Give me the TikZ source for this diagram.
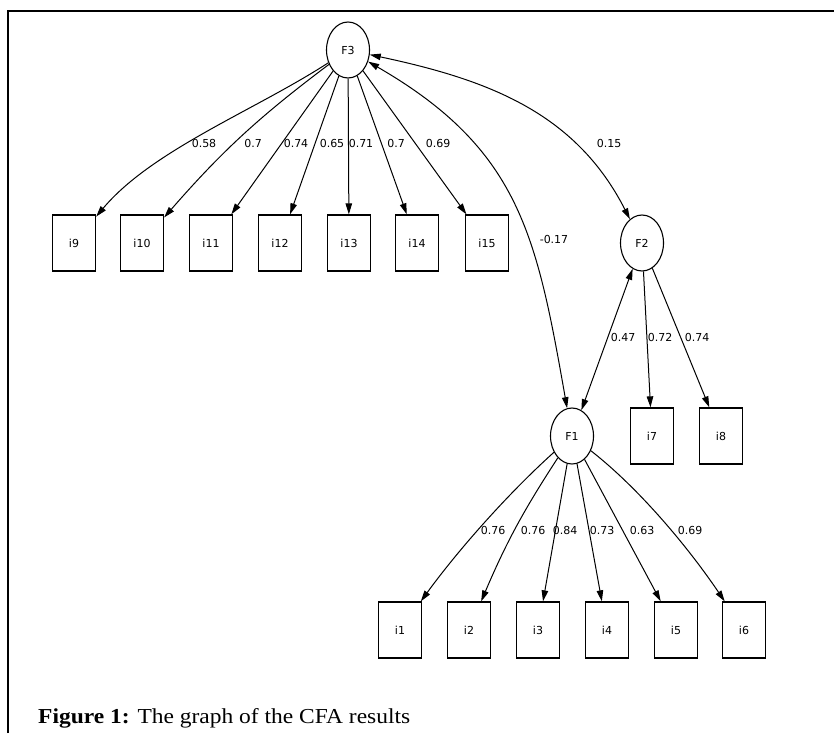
\documentclass[tikz,border=0pt]{standalone}
\usepackage{fontspec}
\setmainfont{Liberation Serif}
\newfontfamily\dejavu{DejaVu Sans}
\usetikzlibrary{shapes.geometric,arrows.meta}
\begin{document}
\begin{tikzpicture}[x=1pt,y=1pt,
  latent/.style={ellipse,draw,line width=1.1pt,minimum width=43pt,minimum height=56pt,inner sep=0pt,font=\dejavu\fontsize{11}{12}\selectfont},
  obs/.style={rectangle,draw,line width=1.3pt,minimum width=43pt,minimum height=56pt,inner sep=0pt,font=\dejavu\fontsize{11}{12}\selectfont},
  load/.style={-{Triangle[length=11pt,width=6.5pt]},line width=1pt},
  cov/.style={{Triangle[length=11pt,width=6.5pt]}-{Triangle[length=11pt,width=6.5pt]},line width=1pt},
  lbl/.style={font=\dejavu\fontsize{11}{12}\selectfont,inner sep=0pt},
  frameline/.style={line width=1.5pt}]
\useasboundingbox (0,0) rectangle (834,-733);
\draw[frameline] (8,-733) -- (8,-11) -- (834,-11);

% latent factors
\node[latent] (F3) at (348,-50) {F3};
\node[latent] (F2) at (642,-243) {F2};
\node[latent] (F1) at (572,-436) {F1};

% top indicators
\node[obs] (i9)  at (74,-243)  {i9};
\node[obs] (i10) at (142,-243) {i10};
\node[obs] (i11) at (211,-243) {i11};
\node[obs] (i12) at (280,-243) {i12};
\node[obs] (i13) at (349,-243) {i13};
\node[obs] (i14) at (417,-243) {i14};
\node[obs] (i15) at (487,-243) {i15};
% F2 indicators
\node[obs] (i7) at (652,-436) {i7};
\node[obs] (i8) at (721,-436) {i8};
% bottom indicators
\node[obs] (i1) at (400,-630) {i1};
\node[obs] (i2) at (469,-630) {i2};
\node[obs] (i3) at (538,-630) {i3};
\node[obs] (i4) at (607,-630) {i4};
\node[obs] (i5) at (676,-630) {i5};
\node[obs] (i6) at (744,-630) {i6};

% F3 loadings
\draw[load] (F3) to[out=213,in=50,looseness=0.8] (i9);
\draw[load] (F3) to[bend right=6] (i10);
\draw[load] (F3) -- (i11);
\draw[load] (F3) -- (i12);
\draw[load] (F3) -- (i13);
\draw[load] (F3) -- (i14);
\draw[load] (F3) -- (i15);
% covariances
\draw[cov] (F3) to[out=-12,in=117] (F2);
\draw[cov] (F3) to[out=-30,in=100,looseness=1.12] (F1);
\draw[cov] (F1) -- (F2);
% F2 loadings
\draw[load] (F2) -- (i7);
\draw[load] (F2) -- (i8);
% F1 loadings
\draw[load] (F1) to[out=222,in=54,looseness=0.8] (i1);
\draw[load] (F1) to[bend right=5] (i2);
\draw[load] (F1) -- (i3);
\draw[load] (F1) -- (i4);
\draw[load] (F1) -- (i5);
\draw[load] (F1) to[out=-38,in=124,looseness=0.8] (i6);

% labels
\node[lbl] (l9)  at (204,-143) {0.58};
\node[lbl] (l10) at (253,-143) {0.7};
\node[lbl] (l11) at (296,-143) {0.74};
\node[lbl] (l12) at (332,-143) {0.65};
\node[lbl] (l13) at (361,-143) {0.71};
\node[lbl] (l14) at (396,-143) {0.7};
\node[lbl] (l15) at (438,-143) {0.69};
\node[lbl] (l32) at (609,-143) {0.15};
\node[lbl] (l31) at (554,-239) {-0.17};
\node[lbl] (l12c) at (623,-337) {0.47};
\node[lbl] (l7) at (660,-337) {0.72};
\node[lbl] (l8) at (697,-337) {0.74};
\node[lbl] (l1) at (493,-530) {0.76};
\node[lbl] (l2) at (533,-530) {0.76};
\node[lbl] (l3) at (565,-530) {0.84};
\node[lbl] (l4) at (602,-530) {0.73};
\node[lbl] (l5) at (642,-530) {0.63};
\node[lbl] (l6) at (690,-530) {0.69};

% caption
\node[anchor=base west,inner sep=0pt] (cap) at (38,-723) {\resizebox{372pt}{15pt}{\textbf{Figure 1:} The graph of the CFA results}};
\end{tikzpicture}
\end{document}
